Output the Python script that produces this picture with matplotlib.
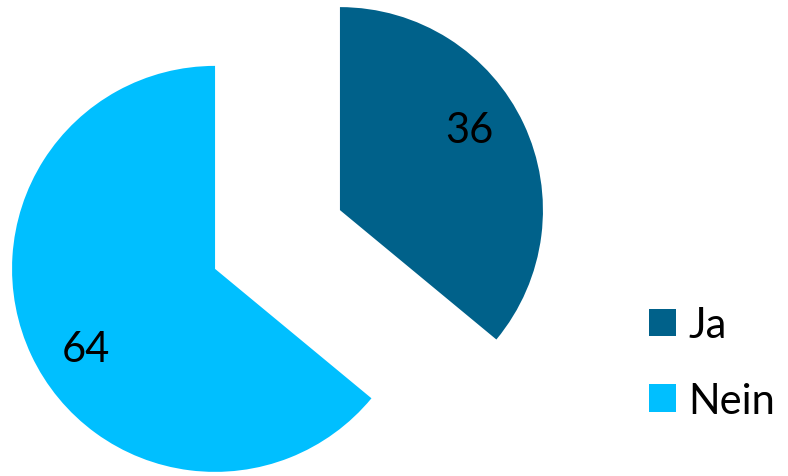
import numpy as np
import matplotlib.pyplot as plt

labels = ["Ja", "Nein"]
values = [36, 64]
colors = ["#00618A", "#00BFFF"]

plt.rcParams["font.family"] = ["Lato", "DejaVu Sans"]

fig = plt.figure(figsize=(7.88, 4.77), dpi=100)
ax = fig.add_axes([0, 0, 1, 1])

explode = [0.34, 0.34]
wedges, texts, autotexts = ax.pie(
    values,
    colors=colors,
    explode=explode,
    startangle=90,
    counterclock=False,
    autopct=lambda p: "%d" % round(p),
    pctdistance=0.75,
    textprops=dict(fontsize=30, color="black"),
    wedgeprops=dict(linewidth=0),
)

# nudge value labels a bit counter-clockwise, like the original
for w, t in zip(wedges, autotexts):
    ang = np.deg2rad((w.theta1 + w.theta2) / 2 + 6.5)
    cx, cy = w.center
    t.set_position((cx + 0.75 * np.cos(ang), cy + 0.75 * np.sin(ang)))

# 1 data unit = 203 px, pie centre at (277.5, 240.5) px from top-left
r_px = 203.0
ax.set_xlim(-277.5 / r_px, (788 - 277.5) / r_px)
ax.set_ylim(-236.5 / r_px, 240.5 / r_px)
ax.set_aspect("auto")
ax.axis("off")

leg = fig.legend(
    wedges,
    labels,
    loc="center left",
    bbox_to_anchor=(611 / 788, 1 - 364 / 477),
    frameon=False,
    fontsize=30,
    handlelength=0.65,
    handleheight=0.65,
    handletextpad=0.3,
    labelspacing=0.91,
)

fig.savefig("out.png", dpi=100)
